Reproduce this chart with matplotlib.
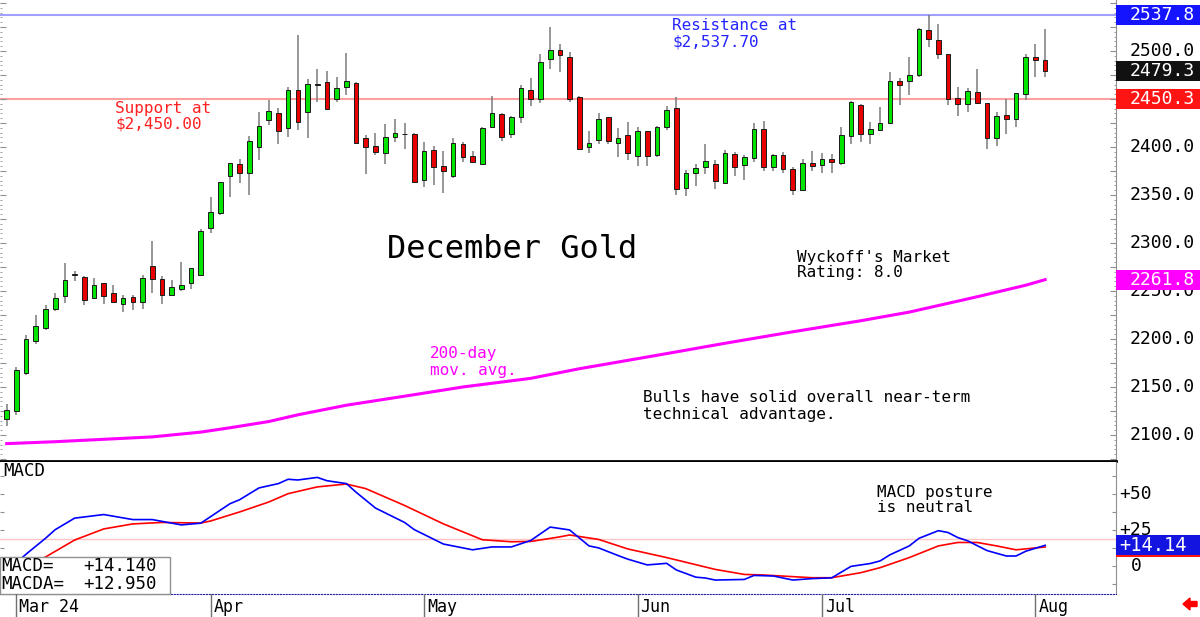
import numpy as np
import matplotlib
matplotlib.use('Agg')
import matplotlib.pyplot as plt
from matplotlib.patches import Rectangle, Polygon
from matplotlib.transforms import blended_transform_factory

# daily OHLC, Feb 29 .. Aug 2 (bar index 0..107)
opens = [2116.5, 2125, 2165, 2198, 2211, 2231, 2244.5, 2266.7, 2265, 2242.7,
         2258, 2248, 2236, 2244, 2238.5, 2276, 2262.5, 2246, 2252, 2258,
         2267, 2316, 2331.6, 2370, 2382.7, 2372.6, 2400, 2427.8, 2435.8, 2419.5,
         2459.4, 2436.8, 2466, 2467.4, 2450.3, 2462.8, 2466.3, 2409, 2401.4, 2393.4,
         2410.4, 2413, 2414, 2365.3, 2397, 2380, 2369.5, 2403, 2390.6, 2382,
         2420.5, 2434.7, 2413.5, 2431, 2459, 2449.7, 2492, 2500.7, 2493.75, 2452.4,
         2400.3, 2407.3, 2431, 2404, 2412, 2391, 2416.7, 2391.7, 2420.8, 2440.6,
         2357, 2372.6, 2378.9, 2382.6, 2362.8, 2392.7, 2381, 2388.5, 2418.75, 2379.5,
         2391.7, 2377.4, 2354.9, 2383.3, 2380.9, 2387.8, 2383, 2411.5, 2444, 2414,
         2417.7, 2424.7, 2468.4, 2468.4, 2475.3, 2521.9, 2511.9, 2496.5, 2450.7, 2444.8,
         2457.3, 2445.8, 2409.7, 2433.3, 2428.9, 2455.2, 2493.4, 2490.6]
highs = [2132.5, 2171, 2203.8, 2225, 2235, 2247.6, 2279, 2271, 2265.7, 2264,
         2258, 2256, 2246, 2246, 2266.7, 2302, 2265.6, 2261, 2280, 2274,
         2315, 2347.6, 2363, 2383, 2387.8, 2411.5, 2436, 2449, 2441, 2462,
         2516.7, 2470.5, 2481, 2478.8, 2473, 2498, 2468, 2412.5, 2415, 2423.6,
         2429, 2424.7, 2415, 2405, 2401.4, 2396, 2409, 2405.5, 2396, 2421,
         2453, 2435, 2432.3, 2464.6, 2471.5, 2497, 2524.7, 2507.3, 2499, 2453,
         2416.7, 2435, 2431, 2419.5, 2426.4, 2421, 2416.7, 2422.2, 2442.7, 2452,
         2376, 2382.3, 2403, 2386.5, 2397, 2395, 2392, 2425.3, 2427.4, 2392.7,
         2394.8, 2378.9, 2387.2, 2395.8, 2393.7, 2392.7, 2421, 2448, 2445, 2426,
         2441.3, 2478, 2471.5, 2493.4, 2523.6, 2537.5, 2527.8, 2496.5, 2462.2, 2461.1,
         2481.6, 2445.8, 2436.1, 2449.7, 2456.25, 2496.9, 2507, 2522.9]
lows = [2109, 2120.5, 2162.5, 2194.5, 2209, 2229, 2238, 2260, 2235, 2242,
        2236, 2238.5, 2228, 2230.5, 2231.6, 2247.6, 2236.5, 2245, 2250, 2252,
        2266, 2310, 2329, 2347.6, 2362.5, 2350, 2386, 2423, 2403, 2410,
        2417.7, 2409, 2447, 2440, 2447, 2454, 2404.5, 2371.6, 2391.7, 2382,
        2405.5, 2398, 2363, 2358.6, 2360.4, 2352.4, 2367.4, 2384.7, 2384, 2381,
        2419.8, 2406.6, 2409, 2424.7, 2443, 2446, 2481, 2478.4, 2447.2, 2397,
        2394, 2403.4, 2402.8, 2389.3, 2386.8, 2380, 2380, 2390, 2417.7, 2349.7,
        2349, 2359.7, 2371.6, 2356, 2362.2, 2369.8, 2366, 2384, 2375.3, 2375,
        2372.6, 2349.7, 2354.3, 2375, 2372.9, 2373.2, 2381, 2402.8, 2405.5, 2402.8,
        2417, 2424, 2444, 2454.2, 2473.3, 2504.5, 2491.3, 2443.75, 2432.3, 2436.1,
        2445.1, 2397.9, 2400.7, 2413.5, 2420.8, 2449, 2473.3, 2473.3]
closes = [2126, 2167.7, 2199.7, 2214, 2231, 2243, 2261.5, 2266.7, 2240.3, 2256,
          2245, 2239, 2243, 2239, 2264, 2263, 2246, 2254, 2256, 2274,
          2312.5, 2332, 2363, 2383, 2372.6, 2406, 2422, 2437.5, 2417, 2459.4,
          2426.4, 2465.3, 2465, 2440, 2461, 2469, 2404.5, 2399.7, 2394.5, 2410.4,
          2414.6, 2413, 2364, 2395.5, 2379, 2375.3, 2404, 2389.6, 2384.7, 2420,
          2435, 2410.4, 2431, 2461, 2450.3, 2488.2, 2500.7, 2495.5, 2450.3, 2397.9,
          2404.5, 2429.2, 2406.6, 2409.7, 2393.4, 2416.4, 2390.6, 2420.8, 2438.2, 2355.9,
          2372.6, 2378, 2385.4, 2364.3, 2393.7, 2379.5, 2389.6, 2418.75, 2379.5, 2391.7,
          2376.8, 2355.2, 2383.3, 2380.2, 2387.5, 2384.7, 2412.5, 2446.9, 2414, 2418.4,
          2425, 2468.4, 2464.6, 2475.3, 2522.6, 2512.9, 2496.5, 2450.3, 2444.8, 2458.3,
          2445.8, 2409.7, 2432.3, 2428.9, 2456.25, 2493.4, 2490.6, 2479.3]

# 200-day moving average
ma_days = [0, 5, 10, 15, 20, 23, 27, 30, 35, 42, 47, 54, 59, 67, 74, 81, 88, 93, 100, 105, 107]
ma_vals = [2091, 2093, 2095.5, 2098, 2103, 2107.5, 2114, 2121, 2131, 2142, 2150,
           2159, 2169, 2183, 2195.5, 2207.5, 2219, 2228, 2244, 2256, 2261.8]

# MACD (blue) and MACDA (red)
macd_days = [1, 2, 4, 5, 7, 10, 13, 15, 18, 20, 21, 23, 24, 26, 28, 29, 30, 32, 33, 35,
             36, 38, 41, 42, 45, 48, 50, 52, 54, 56, 58, 60, 61, 63, 64, 66, 68, 69, 71, 72,
             73, 76, 77, 79, 81, 83, 85, 87, 89, 90, 91, 93, 94, 96, 97, 98, 99, 101, 103, 104,
             105, 107]
macd_vals = [2, 8, 19, 25, 33, 35.5, 32, 32, 28.3, 29.5, 34, 43, 45.8, 54, 57, 60, 59.5, 61.3, 59, 57,
             51, 40, 30, 25, 15, 11, 13, 13, 17.5, 26.8, 24.8, 13.7, 12.3, 7, 4.5, 0.5, 1.6, -3, -8, -8.6,
             -10, -9.6, -6.8, -7.2, -10, -9, -8.5, -0.5, 1.5, 3.3, 7.5, 13.7, 19, 24.3, 23, 19.5, 17.3, 10.5, 6.7, 6.7,
             10, 14.14]
sig_days = [2, 4, 7, 10, 13, 16, 20, 21, 24, 27, 29, 32, 35, 37, 41, 45, 49, 52, 54, 57,
            58, 61, 64, 68, 73, 76, 78, 83, 85, 88, 90, 93, 96, 98, 100, 102, 104, 107]
sig_vals = [0, 6, 17.8, 25.5, 29, 30, 29.6, 31, 37.3, 44.2, 50, 54.7, 56.7, 53.5, 41.8, 29, 18, 16.6, 16.8, 20,
            21.3, 18.2, 11.6, 5.6, -2.6, -6.1, -6.5, -8.4, -8.4, -4.9, -1.4, 5.6, 13.7, 16.1, 16.1, 13.7, 11, 12.95]

month_days = [1, 21, 43, 65, 84, 106]
month_labels = ['Mar 24', 'Apr', 'May', 'Jun', 'Jul', 'Aug']
price_ticks = [2100, 2150, 2200, 2250, 2300, 2350, 2400, 2450, 2500]
support, resistance, last_close, last_ma = 2450.3, 2537.8, 2479.3, 2261.8
macd_last, macda_last, macd_ref = 14.14, 12.95, 18.2

W, H = 1200, 617
def fx(x):
    return x / W
def fy(y):
    return 1 - y / H

plt.rcParams['font.family'] = ['DejaVu Sans Mono', 'DejaVu Sans']

fig = plt.figure(figsize=(12, 6.17), dpi=100)
ax = fig.add_axes([0, fy(461), fx(1116), fy(0) - fy(461)])
axm = fig.add_axes([0, fy(594), fx(1116), fy(462) - fy(594)])
axd = fig.add_axes([0, 0, fx(1116), fy(594)])

xlim = (-0.69, 114.3)

# ---- price panel
o, h, l, c = map(np.array, (opens, highs, lows, closes))
idx = np.arange(len(o))
cols = np.where(c >= o, '#00e400', '#e80000')
ax.vlines(idx, l, h, color='#7a7a7a', lw=1.1, zorder=2)
ax.bar(idx, np.maximum(np.abs(c - o), 0.6), 0.48, bottom=np.minimum(o, c),
       color=cols, edgecolor='#1a1a1a', linewidth=0.7, zorder=3)
ax.plot(ma_days, ma_vals, color='#ff00ff', lw=2.2, zorder=2)
ax.axhline(support, color='#ffa0a0', lw=1.5, zorder=1)
ax.axhline(resistance, color='#a0a0ff', lw=1.5, zorder=1)

ax.set_xlim(*xlim)
ax.set_ylim(2072.9, 2553.1)
ax.set_xticks([])
ax.spines[['top', 'left']].set_visible(False)
ax.spines['right'].set_color('#909090')
ax.spines['bottom'].set_color('black')
ax.spines['bottom'].set_linewidth(2)
ax.set_yticks(np.arange(2075, 2551, 25))
ax.set_yticks(np.arange(2075, 2551, 5), minor=True)
ax.tick_params(axis='y', which='both', left=True, right=True, direction='in',
               labelleft=False, labelright=False, colors='#909090')
ax.tick_params(axis='y', which='major', length=4)
ax.tick_params(axis='y', which='minor', length=1.5)

tr = blended_transform_factory(ax.transAxes, ax.transData)
lab_x = (1130 - 1116) / 1116 + 1
for v in price_ticks:
    ax.text(lab_x, v, f'{v:.1f}', transform=tr, va='center', ha='left',
            fontsize=13, clip_on=False, zorder=5)
box_w = (W - 1116) / 1116
for v, col in [(resistance, '#1414ff'), (last_close, '#111111'),
               (support, '#ff1414'), (last_ma, '#ff00ff')]:
    ax.add_patch(Rectangle((1, v - 10.4), box_w, 20.8, transform=tr,
                           facecolor=col, edgecolor='none', clip_on=False, zorder=6))
    ax.text(lab_x, v, f'{v:.1f}', transform=tr, va='center', ha='left',
            fontsize=13, color='white', clip_on=False, zorder=7)

# ---- MACD panel
axm.axhline(macd_ref, color='#ffc4c4', lw=1, zorder=1)
axm.plot(sig_days, sig_vals, color='#ff0000', lw=1.2, zorder=2)
axm.plot(macd_days, macd_vals, color='#0000ff', lw=1.2, zorder=3)
axm.set_xlim(*xlim)
axm.set_ylim(-19.7, 72)
axm.set_xticks([])
axm.spines[['top', 'left']].set_visible(False)
axm.spines['right'].set_color('#909090')
axm.spines['bottom'].set_color('#2020a0')
axm.spines['bottom'].set_linestyle(':')
axm.set_yticks(np.arange(-12.5, 71, 12.5))
axm.tick_params(axis='y', which='both', left=True, right=True, direction='in',
                labelleft=False, labelright=False, colors='#909090', length=3)

trm = blended_transform_factory(axm.transAxes, axm.transData)
for v, s in [(50, '+50'), (25, '+25'), (0, '0')]:
    axm.text(1 + (1136 - 1116) / 1116, v, s, transform=trm, va='center', ha='center',
             fontsize=13, clip_on=False, zorder=5)
for v, col in [(macda_last, '#ff1414'), (macd_last, '#1414e0')]:
    axm.add_patch(Rectangle((1, v - 6.8), box_w, 13.6, transform=trm,
                            facecolor=col, edgecolor='none', clip_on=False, zorder=6))
axm.text(1 + 3 / 1116, macd_last, f'{macd_last:+.2f}', transform=trm, va='center',
         ha='left', fontsize=13.5, color='white', clip_on=False, zorder=7)

# readout box, bottom left
axm.add_patch(Rectangle((0, fy(594)), fx(170), fy(557) - fy(594), transform=fig.transFigure,
                        facecolor='white', edgecolor='#909090', lw=1, clip_on=False, zorder=8))
for y, name, val in [(566, 'MACD=', macd_last), (584, 'MACDA=', macda_last)]:
    fig.text(fx(1), fy(y), name, fontsize=12.5, va='center', ha='left', zorder=9)
    fig.text(fx(157), fy(y), f'{val:+.3f}', fontsize=12.5, va='center', ha='right', zorder=9)

# ---- date strip
axd.set_xlim(*xlim)
axd.set_ylim(0, 1)
axd.axis('off')
for d, s in zip(month_days, month_labels):
    axd.axvline(d, color='#707070', lw=1)
    axd.text(d + 0.3, 0.45, s, fontsize=12, va='center', ha='left')
fig.add_artist(Polygon([(fx(1183), fy(604)), (fx(1190), fy(598)), (fx(1190), fy(601.5)),
                        (fx(1197), fy(601.5)), (fx(1197), fy(606.5)), (fx(1190), fy(606.5)),
                        (fx(1190), fy(610))], closed=True, color='#ff0000',
                       transform=fig.transFigure))

# ---- annotations
def note(x, y0, lines, color='black', size=11.5, step=16):
    for k, s in enumerate(lines):
        fig.text(fx(x), fy(y0 + k * step), s, color=color, fontsize=size,
                 va='center', ha='left')

note(115, 108, ['Support at', '$2,450.00'], color='#ff2020')
note(672, 26, ['Resistance at', '$2,537.70'], color='#2525ff')
note(387, 249, ['December Gold'], size=23)
note(797, 257, ["Wyckoff's Market", 'Rating: 8.0'])
note(430, 354, ['200-day', 'mov. avg.'], color='#ff00ff')
note(643, 398, ['Bulls have solid overall near-term', 'technical advantage.'])
note(877, 492, ['MACD posture', 'is neutral'])
note(3, 471, ['MACD'], size=12.5)

fig.savefig('out.png', dpi=100)
